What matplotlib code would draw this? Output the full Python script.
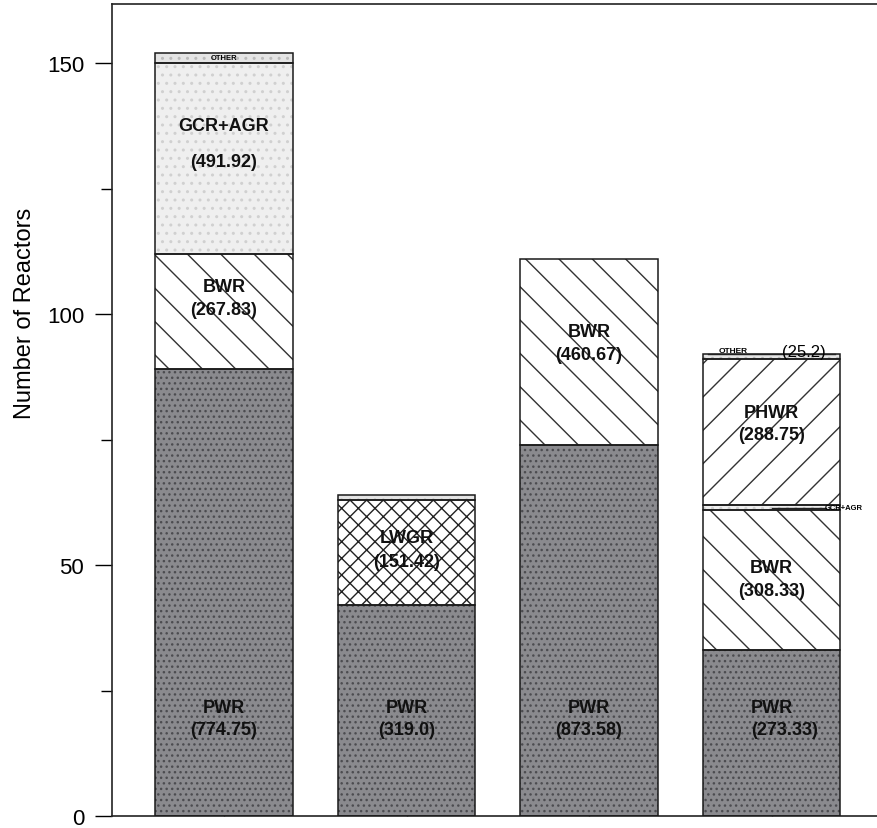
import matplotlib
matplotlib.use("Agg")
import matplotlib.pyplot as plt

# stacked reactor counts, one list per reactor type (bars left to right)
bars = [0, 1, 2, 3]
pwr = [89, 42, 74, 33]
bwr = [23, 0, 37, 28]
lwgr = [0, 21, 0, 0]
gcr_agr = [38, 0, 0, 1]
phwr = [0, 0, 0, 29]
other = [2, 1, 0, 1]

# capacity labels written inside the segments
pwr_cap = ["(774.75)", "(319.0)", "(873.58)", "(273.33)"]
bwr_cap = ["(267.83)", None, "(460.67)", "(308.33)"]
lwgr_cap = [None, "(151.42)", None, None]
gcr_cap = ["(491.92)", None, None, None]
phwr_cap = [None, None, None, "(288.75)"]
other_cap = [None, None, None, "(25.2)"]

plt.rcParams["font.family"] = ["Liberation Sans", "DejaVu Sans"]
plt.rcParams["hatch.linewidth"] = 1.0

fig = plt.figure(figsize=(8.77, 8.29), dpi=100)
ax = fig.add_axes([112 / 877, 1 - 817 / 829, 1 - 112 / 877, (817 - 4.5) / 829])

width = 0.755
layers = [
    (pwr, "#8a8a8e", "...", "#4c4c50"),
    (bwr, "white", "\\", "#333333"),
    (lwgr, "white", "xx", "#222222"),
    (gcr_agr, "#efefef", "..", "#d0d0d0"),
    (phwr, "white", "/", "#333333"),
    (other, "#e4e4e4", "..", "#bbbbbb"),
]

bottom = [0] * len(bars)
for vals, fc, hatch, hc in layers:
    ax.bar(bars, vals, width, bottom=bottom, color=fc, hatch=hatch,
           edgecolor=hc, linewidth=0, zorder=2)
    ax.bar([b for b, v in zip(bars, vals) if v > 0],
           [v for v in vals if v > 0], width,
           bottom=[bt for bt, v in zip(bottom, vals) if v > 0],
           fill=False, edgecolor="#1a1a1a", linewidth=1.1, zorder=3)
    bottom = [b + v for b, v in zip(bottom, vals)]

lab = dict(ha="center", va="center", fontsize=13, fontweight="bold", zorder=5, color="#111111")

# PWR labels
for i in bars:
    dx = 0.07 if i == 3 else 0
    ax.text(i, 21.7, "PWR", **lab)
    ax.text(i + dx, 17.3, pwr_cap[i], **lab)

# bar 1
ax.text(0, 151.1, "OTHER", ha="center", va="center", fontsize=5.5, fontweight="bold", zorder=5)
ax.text(0, 137.5, "GCR+AGR", **lab)
ax.text(0, 130.5, gcr_cap[0], **lab)
ax.text(0, 105.5, "BWR", **lab)
ax.text(0, 101, bwr_cap[0], **lab)

# bar 2
ax.text(1, 55.5, "LWGR", **lab)
ax.text(1, 50.8, lwgr_cap[1], **lab)

# bar 3
ax.text(2, 96.5, "BWR", **lab)
ax.text(2, 92, bwr_cap[2], **lab)

# bar 4
ax.text(3, 80.5, "PHWR", **lab)
ax.text(3, 76, phwr_cap[3], **lab)
ax.text(3, 49.5, "BWR", **lab)
ax.text(3, 45, bwr_cap[3], **lab)
ax.text(2.79, 92.8, "OTHER", ha="center", va="center", fontsize=6, fontweight="bold", zorder=5)
ax.text(3.18, 92.6, other_cap[3], ha="center", va="center", fontsize=12, zorder=5)
ax.plot([2.65, 3.35], [92.0, 92.0], color="#222222", lw=1.0, zorder=4, clip_on=False)
ax.text(3.29, 61.4, "GCR+AGR", ha="left", va="center", fontsize=5.5, fontweight="bold", zorder=5)
ax.plot([3.0, 3.3], [61.4, 61.4], color="#222222", lw=1.0, zorder=4, clip_on=False)

ax.set_xlim(-0.614, 3.578)
ax.set_ylim(0, 161.9)
ax.set_xticks(bars)
ax.set_xticklabels([])
ax.tick_params(axis="x", direction="in", length=10, width=1.0, color="#222222")
ax.set_yticks([0, 50, 100, 150])
ax.set_yticks([25, 75, 125], minor=True)
ax.tick_params(axis="y", which="major", direction="out", length=12, width=1.0, labelsize=16, pad=8)
ax.tick_params(axis="y", which="minor", direction="out", length=8, width=1.0)
ax.set_ylabel("Number of Reactors", fontsize=17)
ax.yaxis.set_label_coords(-0.099, 0.62)
ax.spines["right"].set_visible(False)
for s in ["left", "top", "bottom"]:
    ax.spines[s].set_linewidth(1.2)
    ax.spines[s].set_color("#222222")

fig.savefig("out.png", dpi=100)
